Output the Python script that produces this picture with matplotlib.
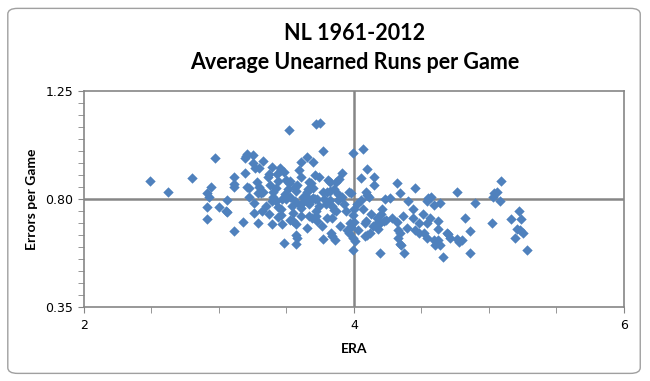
import matplotlib.pyplot as plt
from matplotlib.patches import FancyBboxPatch
from matplotlib.ticker import MultipleLocator, FixedLocator

# ERA und Errors per Game
era = [2.49, 2.62, 2.80, 2.97, 2.915, 2.93, 2.94, 2.915, 2.91, 3.00, 3.06, 3.05, 3.06,
       3.11, 3.11, 3.11, 3.11, 3.18, 3.19, 3.21, 3.25, 3.20, 3.19, 3.21, 3.22, 3.25,
       3.27, 3.22, 3.26, 3.26, 3.28, 3.29, 3.31, 3.33, 3.29, 3.32, 3.36, 3.39, 3.38,
       3.39, 3.40, 3.39, 3.42, 3.40, 3.43, 3.45, 3.46, 3.44, 3.46, 3.44, 3.46, 3.48,
       3.47, 3.48, 3.50, 3.52, 3.53, 3.52, 3.50, 3.53, 3.54, 3.55, 3.53, 3.55, 3.57,
       3.57, 3.57, 3.58, 3.57, 3.60, 3.61, 3.61, 3.61, 3.61, 3.65, 3.65, 3.66, 3.65,
       3.65, 3.67, 3.68, 3.67, 3.69, 3.70, 3.67, 3.69, 3.70, 3.71, 3.74, 3.70, 3.71,
       3.73, 3.72, 3.72, 3.73, 3.72, 3.75, 3.77, 3.77, 3.78, 3.79, 3.77, 3.81, 3.82,
       3.80, 3.82, 3.82, 3.84, 3.85, 3.83, 3.84, 3.84, 3.86, 3.87, 3.89, 3.87, 3.88,
       3.91, 3.91, 3.94, 3.95, 3.96, 3.96, 3.98, 3.97, 3.98, 3.99, 4.01, 3.99, 3.99,
       4.00, 3.99, 4.00, 4.05, 4.05, 4.07, 4.07, 4.09, 4.08, 4.09, 4.10, 4.10, 4.08,
       4.10, 4.12, 4.11, 4.15, 4.15, 4.17, 4.18, 4.19, 4.18, 4.19, 4.22, 4.24, 4.23,
       4.27, 4.32, 4.32, 4.33, 4.34, 4.33, 4.34, 4.35, 4.34, 4.37, 4.39, 4.44, 4.44,
       4.45, 4.45, 4.48, 4.51, 4.54, 4.55, 4.57, 4.54, 4.56, 4.54, 4.59, 4.59, 4.60,
       4.62, 4.62, 4.62, 4.64, 4.64, 4.66, 4.69, 4.70, 4.71, 4.76, 4.76, 4.78, 4.80,
       4.82, 4.86, 4.86, 4.90, 5.02, 5.03, 5.04, 5.06, 5.08, 5.09, 5.16, 5.19, 5.22,
       5.21, 5.23, 5.25, 5.24, 5.28,
       3.30, 3.35, 3.37, 3.42, 3.47, 3.49, 3.51, 3.56, 3.58, 3.62, 3.63, 3.56, 3.33,
       3.30, 3.37, 3.59, 3.44, 3.85, 3.88, 3.93, 4.02, 4.13, 4.20, 4.28, 4.40, 4.48,
       4.52, 3.74, 3.76, 3.80, 3.90, 4.03, 4.14, 4.21, 4.36]
errors = [0.873, 0.830, 0.889, 0.969, 0.824, 0.81, 0.849, 0.766, 0.716, 0.768, 0.797, 0.752, 0.745,
          0.893, 0.861, 0.852, 0.667, 0.705, 0.972, 0.988, 0.982, 0.978, 0.907, 0.852, 0.848, 0.948,
          0.927, 0.81, 0.782, 0.741, 0.87, 0.824, 0.827, 0.83, 0.702, 0.752, 0.89, 0.935, 0.86,
          0.695, 0.81, 0.79, 0.845, 0.828, 0.904, 0.930, 0.922, 0.769, 0.758, 0.727, 0.735, 0.914,
          0.695, 0.616, 0.88, 0.868, 0.875, 1.087, 0.80, 0.81, 0.77, 0.743, 0.715, 0.708, 0.833,
          0.697, 0.65, 0.64, 0.612, 0.775, 0.765, 0.955, 0.893, 0.73, 0.81, 0.83, 0.84, 0.975,
          0.68, 0.87, 0.866, 0.78, 0.80, 0.805, 0.73, 0.72, 0.955, 0.90, 0.89, 0.845, 0.80,
          0.80, 0.75, 0.73, 0.71, 1.11, 1.114, 1.0, 0.83, 0.80, 0.78, 0.634, 0.88, 0.87,
          0.83, 0.835, 0.796, 0.77, 0.755, 0.66, 0.645, 0.72, 0.63, 0.87, 0.885, 0.75, 0.797,
          0.91, 0.81, 0.75, 0.67, 0.66, 0.83, 0.825, 0.70, 0.685, 0.64, 0.625, 0.59, 0.993,
          0.76, 0.735, 0.705, 0.886, 0.797, 1.006, 0.759, 0.71, 0.70, 0.83, 0.815, 0.923, 0.645,
          0.652, 0.66, 0.81, 0.893, 0.858, 0.72, 0.705, 0.70, 0.675, 0.575, 0.71, 0.715, 0.80,
          0.805, 0.868, 0.705, 0.67, 0.66, 0.64, 0.615, 0.61, 0.824, 0.577, 0.68, 0.76, 0.72,
          0.845, 0.672, 0.658, 0.74, 0.79, 0.805, 0.81, 0.70, 0.72, 0.64, 0.775, 0.63, 0.61,
          0.63, 0.71, 0.675, 0.782, 0.61, 0.56, 0.66, 0.655, 0.64, 0.83, 0.635, 0.62, 0.63,
          0.72, 0.667, 0.578, 0.782, 0.70, 0.81, 0.825, 0.83, 0.79, 0.874, 0.716, 0.637, 0.75,
          0.677, 0.67, 0.66, 0.716, 0.59,
          0.85, 0.77, 0.74, 0.79, 0.80, 0.82, 0.84, 0.85, 0.86, 0.81, 0.79, 0.79, 0.96,
          0.93, 0.905, 0.92, 0.875, 0.84, 0.82, 0.78, 0.78, 0.74, 0.74, 0.72, 0.79, 0.70,
          0.66, 0.77, 0.69, 0.72, 0.69, 0.67, 0.69, 0.76, 0.73]

x_ticks = [2, 4, 6]
y_ticks = [0.35, 0.80, 1.25]
y_ticklabels = ["0.35", "0.80", "1.25"]

grau = "#868686"
blau = "#4F81BD"

fig = plt.figure(figsize=(6.5, 3.81), dpi=100)

# abgerundeter Rahmen wie im Excel-Diagramm (hinter den Achsen)
rahmen = FancyBboxPatch((0.012, 0.02), 0.973, 0.958, boxstyle="round,pad=0,rounding_size=0.015",
                        transform=fig.transFigure, facecolor="white", edgecolor="#A0A0A0",
                        linewidth=1.0, zorder=-1)
fig.patches.append(rahmen)

ax = fig.add_axes([0.129, 0.193, 0.831, 0.569])
ax.patch.set_alpha(0)
ax.scatter(era, errors, marker="D", s=28, color=blau, linewidths=0, zorder=3)

ax.set_xlim(2, 6)
ax.set_ylim(0.35, 1.25)
ax.axvline(4, color=grau, linewidth=1.8, zorder=2)
ax.axhline(0.80, color=grau, linewidth=1.8, zorder=2)

for s in ax.spines.values():
    s.set_color(grau)
    s.set_linewidth(1.2)

ax.xaxis.set_major_locator(FixedLocator(x_ticks))
ax.xaxis.set_minor_locator(MultipleLocator(0.5))
ax.yaxis.set_major_locator(FixedLocator(y_ticks))
ax.set_yticklabels(y_ticklabels)
ax.yaxis.set_minor_locator(MultipleLocator(0.05))
ax.tick_params(which="both", direction="out", color=grau, labelsize=9, length=4)
ax.tick_params(axis="x", pad=4)

ax.set_xlabel("ERA", fontsize=10, fontweight="bold", family="Lato", labelpad=8)
ax.set_ylabel("Errors per Game", fontsize=10, fontweight="bold", family="Lato", labelpad=5)

fig.text(0.545, 0.913, "NL 1961-2012", ha="center", va="center", fontsize=15.5,
         fontweight="bold", family="Lato")
fig.text(0.545, 0.835, "Average Unearned Runs per Game", ha="center", va="center",
         fontsize=15.5, fontweight="bold", family="Lato")

fig.savefig("out.png", dpi=100)
